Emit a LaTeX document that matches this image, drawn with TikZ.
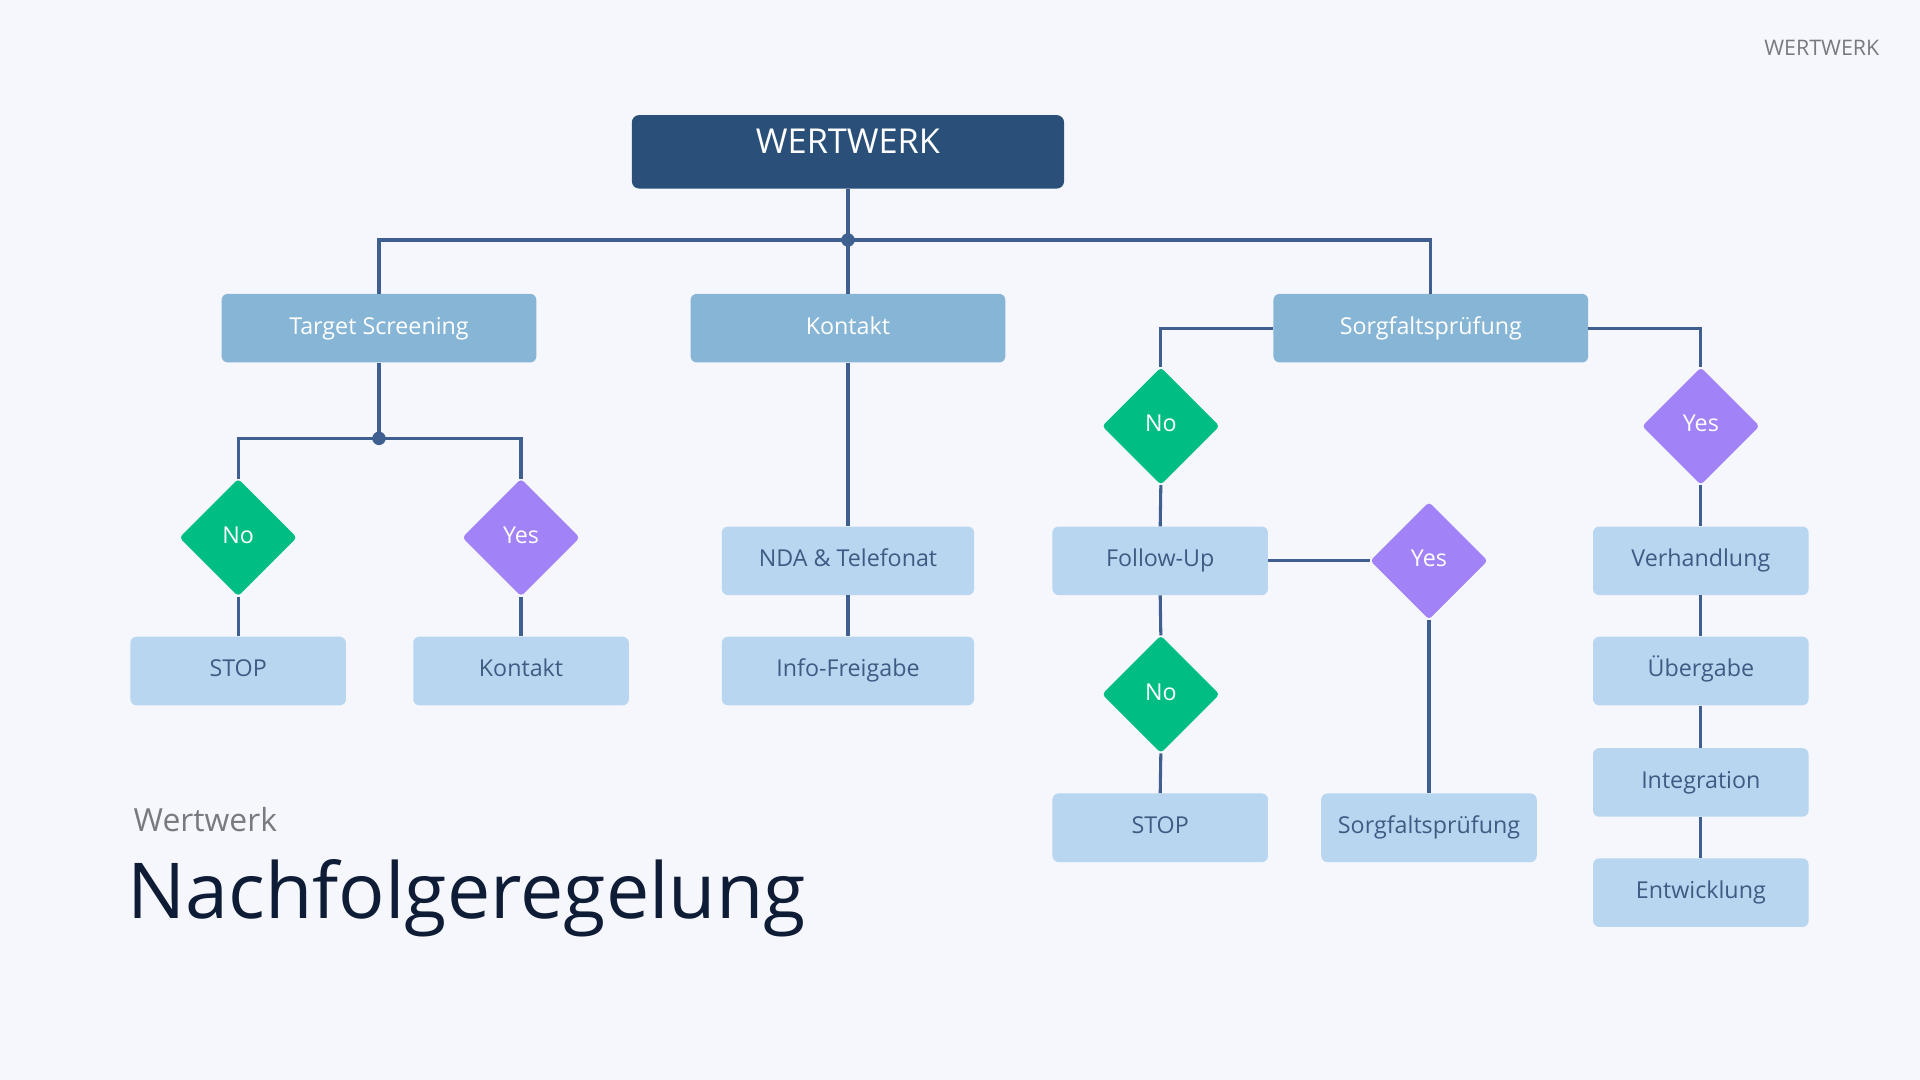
\documentclass[tikz,border=0pt]{standalone}
\usepackage{fontspec}
\setmainfont{Open Sans}
\usetikzlibrary{shapes.geometric}
\definecolor{bgc}{HTML}{F5F7FC}
\definecolor{darkbox}{HTML}{2A5079}
\definecolor{midbox}{HTML}{86B5D6}
\definecolor{lightbox}{HTML}{B9D6F0}
\definecolor{linec}{HTML}{3E5F8F}
\definecolor{lighttext}{HTML}{3E5B84}
\definecolor{greenc}{HTML}{00BD84}
\definecolor{purplec}{HTML}{A282F7}
\definecolor{titlec}{HTML}{0E1C36}
\definecolor{grayc}{HTML}{777A80}
\tikzset{
  boxfont/.style={font=\fontsize{19}{23}\selectfont, text height=14pt, text depth=4.4pt},
  midnode/.style={rectangle, rounded corners=5pt, fill=midbox, text=white, minimum width=257pt, minimum height=56pt, inner sep=0pt, boxfont},
  lightnode/.style={rectangle, rounded corners=5pt, fill=lightbox, text=lighttext, minimum width=176pt, minimum height=56pt, inner sep=0pt, boxfont},
  widenode/.style={lightnode, minimum width=206pt},
  decno/.style={diamond, rounded corners=3pt, fill=greenc, text=white, minimum width=96pt, minimum height=96pt, inner sep=0pt, boxfont},
  decyes/.style={decno, fill=purplec},
  conn/.style={draw=linec, line width=2.5pt},
}
\begin{document}
\begin{tikzpicture}[x=1pt, y=-1pt]
\fill[bgc] (0,0) rectangle (1568,882);
\useasboundingbox (0,0) rectangle (1568,882);

% header
\node[anchor=base east, text=grayc, font=\fontsize{17.5}{22}\selectfont, inner sep=0pt] (brand) at (1535,45) {WERTWERK};

% top box
\node[rectangle, rounded corners=6pt, fill=darkbox, minimum width=353pt, minimum height=60pt, inner sep=0pt] (top) at (692.5,124) {};
\node[text=white, font=\fontsize{28}{34}\selectfont, inner sep=0pt, anchor=base] (toptext) at (692.5,125) {WERTWERK};

% level 1
\node[midnode] (ts) at (309.5,268) {Target Screening};
\node[midnode] (k1) at (692.5,268) {Kontakt};
\node[midnode] (sp) at (1168.5,268) {Sorgfaltsprüfung};

\coordinate (j1) at (692.5,196);
\coordinate (j2) at (309.5,358);

% left branch
\node[decno] (no1) at (194.5,439) {No};
\node[decyes] (yes1) at (425.5,439) {Yes};
\node[lightnode] (stop1) at (194.5,548) {STOP};
\node[lightnode] (kont2) at (425.5,548) {Kontakt};

% middle branch
\node[widenode] (nda) at (692.5,458) {NDA \& Telefonat};
\node[widenode] (info) at (692.5,548) {Info-Freigabe};

% right branch
\node[decno] (no2) at (948,348) {No};
\node[decyes] (yes2) at (1389,348) {Yes};
\node[lightnode] (fu) at (947.5,458) {Follow-Up};
\node[decyes] (yes3) at (1167,458) {Yes};
\node[decno] (no3) at (948,567) {No};
\node[lightnode] (stop2) at (947.5,676) {STOP};
\node[lightnode] (sp2) at (1167,676) {Sorgfaltsprüfung};
\node[lightnode] (verh) at (1389,458) {Verhandlung};
\node[lightnode] (ueb) at (1389,548) {Übergabe};
\node[lightnode] (integ) at (1389,639) {Integration};
\node[lightnode] (entw) at (1389,729) {Entwicklung};

% connectors
\draw[conn] (top.south) -- (j1);
\draw[conn] (j1) -- (k1.north);
\draw[conn] (j1) -| (ts.north);
\draw[conn] (j1) -| (sp.north);
\fill[linec] (j1) circle (5.5);

\draw[conn] (ts.south) -- (j2);
\draw[conn] (j2) -| (no1.north);
\draw[conn] (j2) -| (yes1.north);
\fill[linec] (j2) circle (5.5);
\draw[conn] (no1.south) -- (stop1.north);
\draw[conn] (yes1.south) -- (kont2.north);

\draw[conn] (k1.south) -- (nda.north);
\draw[conn] (nda.south) -- (info.north);

\draw[conn] (sp.west) -| (no2.north);
\draw[conn] (sp.east) -| (yes2.north);
\draw[conn] (no2.south) -- (fu.north);
\draw[conn] (fu.east) -- (yes3.west);
\draw[conn] (fu.south) -- (no3.north);
\draw[conn] (no3.south) -- (stop2.north);
\draw[conn] (yes3.south) -- (sp2.north);
\draw[conn] (yes2.south) -- (verh.north);
\draw[conn] (verh.south) -- (ueb.north);
\draw[conn] (ueb.south) -- (integ.north);
\draw[conn] (integ.south) -- (entw.north);

% title
\node[anchor=base west, text=grayc, font=\fontsize{26}{32}\selectfont, inner sep=0pt] (sub) at (109,679) {Wertwerk};
\node[anchor=base west, text=titlec, font=\fontsize{63}{76}\selectfont, inner sep=0pt] (title) at (104,750) {Nachfolgeregelung};
\end{tikzpicture}
\end{document}
